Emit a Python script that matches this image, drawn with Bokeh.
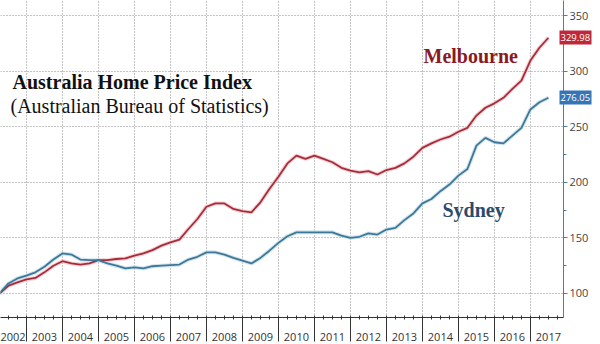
import pandas as pd
from bokeh.plotting import figure
from bokeh.models import FixedTicker, LinearAxis, Label, Range1d, CustomJSTickFormatter
from bokeh.embed import file_html
from bokeh.resources import INLINE

# ---------------- data ----------------
quarters = pd.period_range("2002Q1", "2017Q2", freq="Q")
sydney = [100, 109, 113.5, 116, 119, 124, 130.5, 136, 135, 130.5, 130, 130,
          127, 125, 122.5, 123.5, 122.5, 124.5, 125, 125.5, 126, 130.5, 133, 137,
          137, 135, 132, 129.5, 127, 132, 138.5, 145.5, 151.5, 155, 155, 155,
          155, 155, 152, 150, 151, 154, 153, 157.5, 159, 166, 172, 181,
          185, 192, 198, 206, 212, 233, 240, 236, 235, 242, 249, 265.5,
          272, 276.05]
melbourne = [100, 107, 110, 112.6, 114, 119, 125, 129, 127, 126, 127, 130,
             130, 131, 131.5, 134, 136, 139, 143, 146, 148.5, 158, 167, 178,
             181, 181, 176, 174, 173, 182, 194, 205, 217, 224, 221, 224,
             221, 218, 213, 210.5, 209, 210, 207, 211, 213, 217, 223, 231,
             235, 238.5, 241, 245.5, 249, 260, 267, 271, 276, 284, 291.5, 309.5,
             321, 329.98]
years = list(range(2002, 2018))
year_labels = [str(y) for y in years]
y_ticks = [100, 150, 200, 250, 300, 350]
y_minor = [75, 125, 175, 225, 275, 325]

# decimal year at quarter end
dates = [q.year + q.quarter / 4.0 for q in quarters]

# ---------------- layout ----------------
W, H = 600, 344
FRAME_W, FRAME_H = 563, 317
X_START = 2002.28
X_END = X_START + FRAME_W / 36.0
Y_START, Y_END = 78.4, 363.5
MAIN_AXIS_EXTENT = 34   # measured width of the main right axis panel

def dx(px):
    return X_START + px * (X_END - X_START) / FRAME_W

def dy(py):
    return Y_END - py * (Y_END - Y_START) / FRAME_H

p = figure(width=W, height=H, output_backend="svg", toolbar_location=None,
           x_range=Range1d(X_START, X_END), y_range=Range1d(Y_START, Y_END),
           y_axis_location="right",
           min_border_left=0, min_border_top=0, min_border_right=W - FRAME_W,
           min_border_bottom=H - FRAME_H)
p.outline_line_color = None
p.background_fill_color = "white"
p.border_fill_color = "white"

# grids
p.xgrid.ticker = FixedTicker(ticks=[y + 1 for y in years[:-1]])
p.ygrid.ticker = FixedTicker(ticks=y_ticks)
for g in (p.xgrid, p.ygrid):
    g.grid_line_color = "#8a8a8a"
    g.grid_line_dash = "1 2"
    g.grid_line_width = 1

# x axis with separators and quarter ticks
xa = p.xaxis[0]
xa.ticker = FixedTicker(ticks=[y + 1 for y in years[:-1]],
                        minor_ticks=[y + q / 4 for y in years for q in range(4)])
xa.formatter = CustomJSTickFormatter(code="return ''")
xa.axis_line_color = "#333333"
xa.major_tick_line_color = "#333333"
xa.minor_tick_line_color = "#333333"
xa.major_tick_in = 0
xa.major_tick_out = 24
xa.minor_tick_in = 2
xa.minor_tick_out = 2
xa.major_label_standoff = 0

# year labels centred in each year band
label_map = {y + 0.5: lab for y, lab in zip(years, year_labels)}
xb = LinearAxis(ticker=FixedTicker(ticks=list(label_map.keys())),
                major_label_overrides=label_map)
xb.axis_line_color = None
xb.major_tick_line_color = None
xb.minor_tick_line_color = None
xb.major_tick_out = 0
xb.major_tick_in = 0
xb.major_label_standoff = -9
xb.major_label_text_font = "Open Sans"
xb.major_label_text_font_size = "11px"
xb.major_label_text_color = "#333333"
p.add_layout(xb, "below")

# right axis
ya = p.yaxis[0]
ya.ticker = FixedTicker(ticks=y_ticks, minor_ticks=y_minor)
ya.axis_line_color = "#4f7f9f"
ya.major_tick_line_color = "#4f7f9f"
ya.minor_tick_line_color = "#4f7f9f"
ya.major_tick_in = 0
ya.major_tick_out = 4
ya.minor_tick_in = 0
ya.minor_tick_out = 3
ya.major_label_standoff = 2
ya.major_label_text_font = "Open Sans"
ya.major_label_text_font_size = "11px"
ya.major_label_text_color = "#444444"

# lines (with soft halo)
p.line(dates, melbourne, line_color="#f0c6cc", line_width=4, line_alpha=0.8)
p.line(dates, sydney, line_color="#c8dde8", line_width=4, line_alpha=0.8)
p.line(dates, melbourne, line_color="#a82c38", line_width=1.8)
p.line(dates, sydney, line_color="#3c7898", line_width=1.8)

SERIF = "Liberation Serif"
p.add_layout(Label(x=dx(12), y=dy(81), text="Australia Home Price Index",
                   text_font=SERIF, text_font_style="bold", text_font_size="20px",
                   text_color="#111111", text_baseline="middle"))
p.add_layout(Label(x=dx(10), y=dy(105), text="(Australian Bureau of Statistics)",
                   text_font=SERIF, text_font_size="20px",
                   text_color="#111111", text_baseline="middle"))
p.add_layout(Label(x=dx(423), y=dy(55), text="Melbourne",
                   text_font=SERIF, text_font_style="bold", text_font_size="20px",
                   text_color="#8b1a1f", text_baseline="middle"))
p.add_layout(Label(x=dx(442), y=dy(209), text="Sydney",
                   text_font=SERIF, text_font_style="bold", text_font_size="20px",
                   text_color="#2b4a6e", text_baseline="middle"))

# last-value tags: coloured boxes drawn as thick ticks of an extra right axis,
# white values drawn by another right axis pulled back over them
mel_last, syd_last = melbourne[-1], sydney[-1]
box = LinearAxis(ticker=FixedTicker(ticks=[mel_last], minor_ticks=[syd_last]),
                 formatter=CustomJSTickFormatter(code="return ''"))
box.axis_line_color = None
box.major_tick_line_color = "#c0283a"
box.minor_tick_line_color = "#3575b5"
box.major_tick_line_width = 14
box.minor_tick_line_width = 14
box.major_tick_in = MAIN_AXIS_EXTENT - 2
box.major_tick_out = 0
box.minor_tick_in = MAIN_AXIS_EXTENT - 2
box.minor_tick_out = 0
box.major_label_standoff = 0
p.add_layout(box, "right")

vals = LinearAxis(ticker=FixedTicker(ticks=[mel_last, syd_last]),
                  major_label_overrides={mel_last: f"{mel_last:.2f}",
                                         syd_last: f"{syd_last:.2f}"})
vals.axis_line_color = None
vals.major_tick_line_color = None
vals.minor_tick_line_color = None
vals.major_tick_out = 0
vals.major_tick_in = 0
vals.major_label_standoff = -(MAIN_AXIS_EXTENT - 3)
vals.major_label_text_font = "Open Sans"
vals.major_label_text_font_size = "9.5px"
vals.major_label_text_color = "white"
p.add_layout(vals, "right")

open("out.html", "w").write(file_html(p, INLINE))
